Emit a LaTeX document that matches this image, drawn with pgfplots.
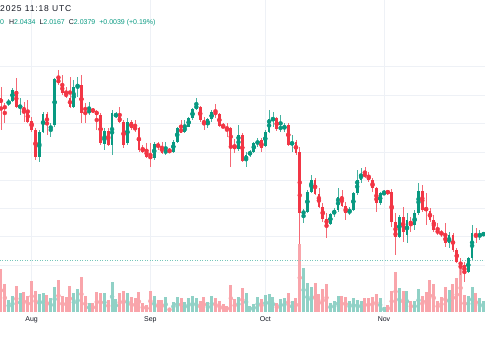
\documentclass[border=0pt]{standalone}
\usepackage{fontspec}
\setmainfont{Liberation Sans}
\usepackage{pgfplots}
\usepackage{pgfplotstable}
\pgfplotsset{compat=1.18}
\definecolor{cred}{HTML}{F23645}
\definecolor{cgreen}{HTML}{089981}
\definecolor{vred}{RGB}{249,165,171}
\definecolor{vgreen}{RGB}{144,209,198}
\definecolor{gridc}{RGB}{238,241,246}
\definecolor{txt}{HTML}{131722}

% candle data: pixel rows (top of picture = 0), o h l c
\pgfplotstableread{
i o h l c
0 98.3 87 130 103.3
1 106 103 123 108.5
2 104.3 99 106 101
3 100.7 88 102 90
4 90.7 78 108 106.7
5 107.5 98 115 106
6 106.7 101.7 121.7 111.7
7 111 100 123 121.7
8 120.7 116.7 131.7 130
9 130 128 160 156.7
10 156.7 130 161.7 131.7
11 131.7 111.7 133 114
12 114 111.7 135 125
13 129.3 123 136.7 125.7
14 125 78.3 126.7 79
15 79 70 85 83.3
16 84 75 95 93.3
17 92.3 86.7 98.3 97.3
18 97.7 76.7 108.3 106.7
19 106.7 80 108.3 86.7
20 86.7 76.7 96.7 85
21 85 75 123.3 113.3
22 108 103 123 110
23 113.3 102 115 109.3
24 109.3 108 113 111.7
25 111 110 130 115
26 115 113.3 145 143.3
27 144 128.3 150 131
28 131 128.3 146 145
29 145 110 155 113.3
30 117.3 111.7 118.3 113.3
31 117.3 106.7 123.3 121.7
32 121.7 120 148.3 145
33 143.3 118.3 145 121.7
34 121.7 120 130 128.3
35 126.7 120 131.7 130
36 128.3 126.7 151.7 150
37 148.3 145 153.3 151.7
38 150 143.3 158.3 156.7
39 156 143.3 166.7 158.3
40 158.3 141.7 160 144
41 144 141.7 150 146.7
42 146 141.7 154 153.3
43 153.3 141.7 155 150
44 150 148 153 152.3
45 151.7 140 153.3 141.7
46 141.7 126.7 142.7 128.3
47 128.3 120 133.3 132.7
48 131.7 120 132.7 126.7
49 126.7 117.3 127.3 118.3
50 118.3 108.3 120 109
51 109 98.3 110 105
52 106.7 106 121.7 120
53 120 116.7 130 124.3
54 125 118.3 128.3 119.3
55 119.3 110 121.7 112.3
56 112.3 104.3 118.3 114
57 114 113.3 126.7 126
58 126 123.3 128.3 127.3
59 127.3 122.7 136.7 129.3
60 128.3 126.7 166.7 145
61 145 139.3 153.3 149.3
62 149.3 125 150.7 135
63 135 133.3 161.7 160.7
64 160.7 151.7 166.7 155
65 155 150 156.7 151.7
66 151.7 141.7 152.7 142.7
67 143.3 138.3 146.7 141.7
68 140 138.3 151.7 148.3
69 146 130 147 131.7
70 131.7 110 133.3 119.3
71 120 111.7 126.7 118.3
72 118.3 116.7 130.7 129.3
73 129.3 115 131.7 126.7
74 128.3 123.3 131.7 126
75 125 123.3 146 145
76 145 135 151.7 141.7
77 141.7 140 155 152.7
78 151.7 146.7 244 213.3
79 213.3 209 223 211.7
80 211.7 190 213.3 191.7
81 191.7 175 193.3 180
82 180 178.3 195 194
83 194 188 208.3 207.3
84 207.3 203.3 221.7 219.3
85 219.3 213.3 238.3 224
86 224 213.3 225 214
87 214 208.3 216.7 210
88 210 188.3 211.7 196.7
89 196 190 206.7 205.7
90 205.7 201.7 220 213.3
91 213.3 206.7 215 210
92 210 191.7 211 193.3
93 193.3 170 195 180
94 180 168.3 182.7 174
95 174 166.7 178.3 176
96 175.7 171.7 181.7 180
97 180 178.3 191.7 188.3
98 188.3 186.7 211.7 203.3
99 203.3 191.7 205 193.3
100 194 190 195 192.7
101 191 189.7 194.7 193.3
102 191.7 189 226.7 221.7
103 221.7 213.3 255 236.7
104 236.7 215 238.3 216.7
105 216.7 206.7 241.7 231.7
106 235 213.3 243.3 220
107 220.7 216.7 231.7 225
108 225 210 230 213.3
109 213.3 183.3 215 191
110 191 185 211.7 210
111 208.3 193.3 225 210
112 211 208.3 221.7 220
113 220 215 231.7 230
114 230 223.3 235 233.3
115 231.7 230 236.7 235
116 235 223.3 246.7 243.3
117 243.3 232.3 248.3 235
118 235 233.3 251.7 250
119 250 248.3 263.3 261.7
120 261.7 258.3 275 265.5
121 265 262 282 273
122 271.7 256.7 273.3 258.3
123 258.3 225 260 233.3
124 233.3 228.3 243.3 236.7
125 236.7 230 240 234.5
126 234.5 232.5 236 233.5
}\candles

% volume: top pixel of each bar, g=1 green, 0 red
\pgfplotstableread{
i v g
0 269.3 0
1 284.3 0
2 300 1
3 296 1
4 286 0
5 293.3 1
6 291.7 0
7 295.7 0
8 281 0
9 290.7 0
10 294 1
11 292.7 1
12 295 0
13 298.3 1
14 286.7 1
15 280 0
16 296 0
17 296.7 0
18 285.7 0
19 293.3 1
20 289.3 1
21 276.7 0
22 296 0
23 303.3 1
24 303.3 0
25 292.3 0
26 293.3 0
27 293.3 1
28 300 0
29 282 1
30 299.3 1
31 293.3 0
32 291 0
33 292.7 1
34 296.7 0
35 298.3 0
36 291.7 0
37 303.3 0
38 305 0
39 290.7 0
40 296 1
41 300 0
42 300 0
43 297.3 1
44 307.7 0
45 301.7 1
46 297.3 1
47 297.7 0
48 301.7 1
49 298.3 1
50 296 1
51 297.7 1
52 301 0
53 297.3 0
54 302.3 1
55 296 1
56 297.7 0
57 300.7 0
58 304 0
59 305.7 0
60 285 0
61 299.3 0
62 296.7 1
63 288 0
64 292.5 1
65 306 1
66 304 1
67 296.7 1
68 299.3 0
69 295 1
70 294.3 1
71 296.7 1
72 302.7 0
73 299 1
74 297.7 1
75 293.3 0
76 301 1
77 298.3 0
78 244 0
79 268.3 1
80 282.7 1
81 286.7 1
82 283.3 0
83 294 0
84 289.3 0
85 284 0
86 302.7 1
87 301 1
88 296 1
89 296 0
90 296.7 0
91 301 1
92 298.3 1
93 300 1
94 300.7 1
95 298.3 0
96 297.7 0
97 296.7 0
98 294 0
99 298.3 1
100 306.7 1
101 305 0
102 291 0
103 271.7 0
104 287.7 1
105 291 0
106 291 1
107 301 0
108 301 1
109 289 1
110 295.7 0
111 291.7 0
112 280 0
113 284.3 0
114 301 0
115 296.7 0
116 287.3 0
117 290 1
118 284 0
119 277.7 0
120 264.3 0
121 295 0
122 296 1
123 287.3 1
124 293.3 0
125 298.3 1
126 300.7 1
}\vols

\begin{document}
\begin{tikzpicture}[x=1pt,y=1pt]
\useasboundingbox (0pt,0pt) rectangle (485pt,360pt);
\begin{axis}[at={(0pt,48pt)}, anchor=south west, scale only axis,
  width=485pt, height=312pt,
  xmin=-0.261, xmax=126.37, ymin=0, ymax=312, y dir=reverse,
  axis line style={draw=none}, major tick length=0pt,
  xtick={8,39,69,100}, xticklabels={Aug,Sep,Oct,Nov},
  ytick=\empty,
  xmajorgrids, grid style={draw=gridc, line width=0.8pt},
  xticklabel style={font=\fontsize{7}{8}\selectfont, text=txt, yshift=-1pt},
  clip=true]

% horizontal price grid
\pgfplotsinvokeforeach{66.7,95.2,123.7,152.2,180.4,208.5,236.7,265}{
  \addplot[draw=gridc, line width=0.8pt, forget plot] coordinates {(-1,#1) (128,#1)};
}

% volume
\addplot[only marks, mark=none, color=vgreen, forget plot,
  restrict expr to domain={\thisrow{g}}{0.5:1.5},
  error bars/.cd, y dir=both, y explicit, error mark=none,
  error bar style={line width=3pt, color=vgreen}]
  table[x=i, y expr={(\thisrow{v}+311.5)/2}, y error expr={(311.5-\thisrow{v})/2}] {\vols};
\addplot[only marks, mark=none, color=vred, forget plot,
  restrict expr to domain={\thisrow{g}}{-0.5:0.5},
  error bars/.cd, y dir=both, y explicit, error mark=none,
  error bar style={line width=3pt, color=vred}]
  table[x=i, y expr={(\thisrow{v}+311.5)/2}, y error expr={(311.5-\thisrow{v})/2}] {\vols};

% last price line
\addplot[color=cgreen!55, line width=0.6pt, dash pattern=on 1pt off 1.5pt, forget plot]
  coordinates {(-1,260.7) (128,260.7)};

% wicks
\addplot[only marks, mark=none, color=cgreen, forget plot,
  restrict expr to domain={\thisrow{o}-\thisrow{c}}{0:1000},
  error bars/.cd, y dir=both, y explicit, error mark=none,
  error bar style={line width=0.7pt, color=cgreen!75}]
  table[x=i, y expr={(\thisrow{h}+\thisrow{l})/2}, y error expr={(\thisrow{l}-\thisrow{h})/2}] {\candles};
\addplot[only marks, mark=none, color=cred, forget plot,
  restrict expr to domain={\thisrow{o}-\thisrow{c}}{-1000:-0.0001},
  error bars/.cd, y dir=both, y explicit, error mark=none,
  error bar style={line width=0.7pt, color=cred!75}]
  table[x=i, y expr={(\thisrow{h}+\thisrow{l})/2}, y error expr={(\thisrow{l}-\thisrow{h})/2}] {\candles};
% bodies
\addplot[only marks, mark=none, color=cgreen, forget plot,
  restrict expr to domain={\thisrow{o}-\thisrow{c}}{0:1000},
  error bars/.cd, y dir=both, y explicit, error mark=none,
  error bar style={line width=2.7pt, color=cgreen}]
  table[x=i, y expr={(\thisrow{o}+\thisrow{c})/2}, y error expr={max(abs(\thisrow{o}-\thisrow{c})/2,0.6)}] {\candles};
\addplot[only marks, mark=none, color=cred, forget plot,
  restrict expr to domain={\thisrow{o}-\thisrow{c}}{-1000:-0.0001},
  error bars/.cd, y dir=both, y explicit, error mark=none,
  error bar style={line width=2.7pt, color=cred}]
  table[x=i, y expr={(\thisrow{o}+\thisrow{c})/2}, y error expr={max(abs(\thisrow{o}-\thisrow{c})/2,0.6)}] {\candles};
\end{axis}

\node[anchor=west, inner sep=0pt, font=\fontsize{8.5}{9}\selectfont\addfontfeature{LetterSpace=10}, text=txt] at (0pt,351.7pt) {2025 11:18 UTC};
\node[anchor=west, inner sep=0pt, font=\fontsize{7}{8}\selectfont, text=txt] at (0pt,337pt)
  {\textcolor{cgreen}{0}\hspace{5pt}H\textcolor{cgreen}{2.0434}\hspace{4pt}L\textcolor{cgreen}{2.0167}\hspace{4pt}C\textcolor{cgreen}{2.0379}\hspace{4pt}\textcolor{cgreen}{+0.0039 (+0.19\%)}};
\end{tikzpicture}
\end{document}
